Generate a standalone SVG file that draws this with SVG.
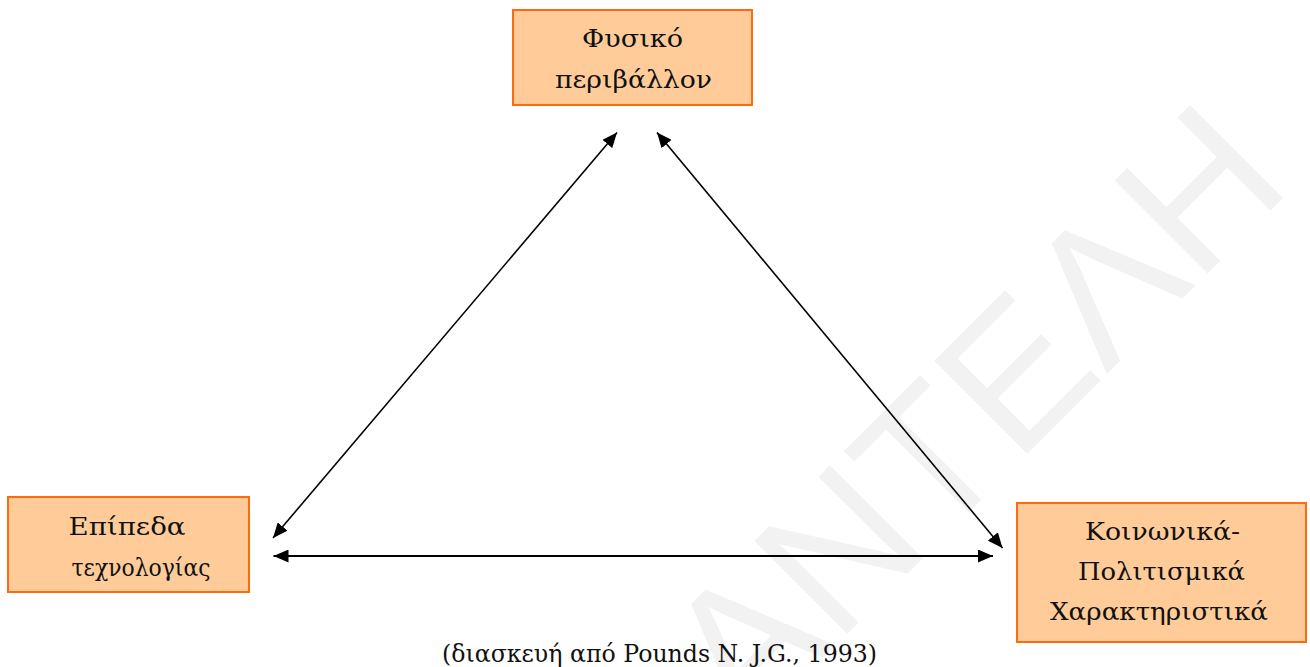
<svg xmlns="http://www.w3.org/2000/svg" width="1310" height="667" viewBox="0 0 1310 667">
<style>
.box{fill:#ffcc99;stroke:#ff6a0d;stroke-width:2}
.lbl{font-family:"DejaVu Serif","Liberation Serif",serif;font-size:25px;fill:#111;text-anchor:middle}
.cap{font-family:"DejaVu Serif","Liberation Serif",serif;font-size:23.5px;fill:#111;text-anchor:middle}
.wm{font-family:"Liberation Sans","DejaVu Sans",sans-serif;font-size:191px;fill:#f2f2f2}
.con{stroke:#000;fill:none}
</style>
<defs>
<marker id="ah" markerUnits="userSpaceOnUse" markerWidth="16" markerHeight="13" refX="15" refY="6.5" orient="auto-start-reverse" viewBox="0 0 16 13">
<path d="M0,0 L15,6.5 L0,13 z" fill="#000"/>
</marker>
</defs>
<rect width="1310" height="667" fill="#fff"/>
<text class="wm" x="1294" y="187" text-anchor="end" transform="rotate(-45 1294 187)">ΑΝΤΕΛΗ</text>
<g id="connectors">
<line class="con" stroke-width="1.6" x1="273" y1="538" x2="617" y2="132.5" marker-start="url(#ah)" marker-end="url(#ah)"/>
<line class="con" stroke-width="1.6" x1="657" y1="132.5" x2="1002.5" y2="548" marker-start="url(#ah)" marker-end="url(#ah)"/>
<line class="con" stroke-width="2.2" x1="273.5" y1="556" x2="993" y2="556" marker-start="url(#ah)" marker-end="url(#ah)"/>
</g>
<g id="node-fysiko">
<rect class="box" x="513" y="10" width="239" height="95"/>
<text class="lbl" x="632.5" y="47" textLength="101" lengthAdjust="spacingAndGlyphs">Φυσικό</text>
<text class="lbl" x="633.5" y="88" textLength="157" lengthAdjust="spacingAndGlyphs">περιβάλλον</text>
</g>
<g id="node-epipeda">
<rect class="box" x="8" y="497" width="241" height="95"/>
<text class="lbl" x="127" y="534.5" textLength="117" lengthAdjust="spacingAndGlyphs">Επίπεδα</text>
<text class="lbl" x="141" y="575.5" textLength="139" lengthAdjust="spacingAndGlyphs">τεχνολογίας</text>
</g>
<g id="node-koinonika">
<rect class="box" x="1017" y="503" width="289" height="139"/>
<text class="lbl" x="1162.5" y="540" textLength="155" lengthAdjust="spacingAndGlyphs">Κοινωνικά-</text>
<text class="lbl" x="1161.5" y="580" textLength="167" lengthAdjust="spacingAndGlyphs">Πολιτισμικά</text>
<text class="lbl" x="1159" y="620" textLength="218" lengthAdjust="spacingAndGlyphs">Χαρακτηριστικά</text>
</g>
<g id="caption">
<text class="cap" x="659.5" y="662" textLength="435" lengthAdjust="spacingAndGlyphs">(διασκευή από Pounds N. J.G., 1993)</text>
</g>
</svg>
